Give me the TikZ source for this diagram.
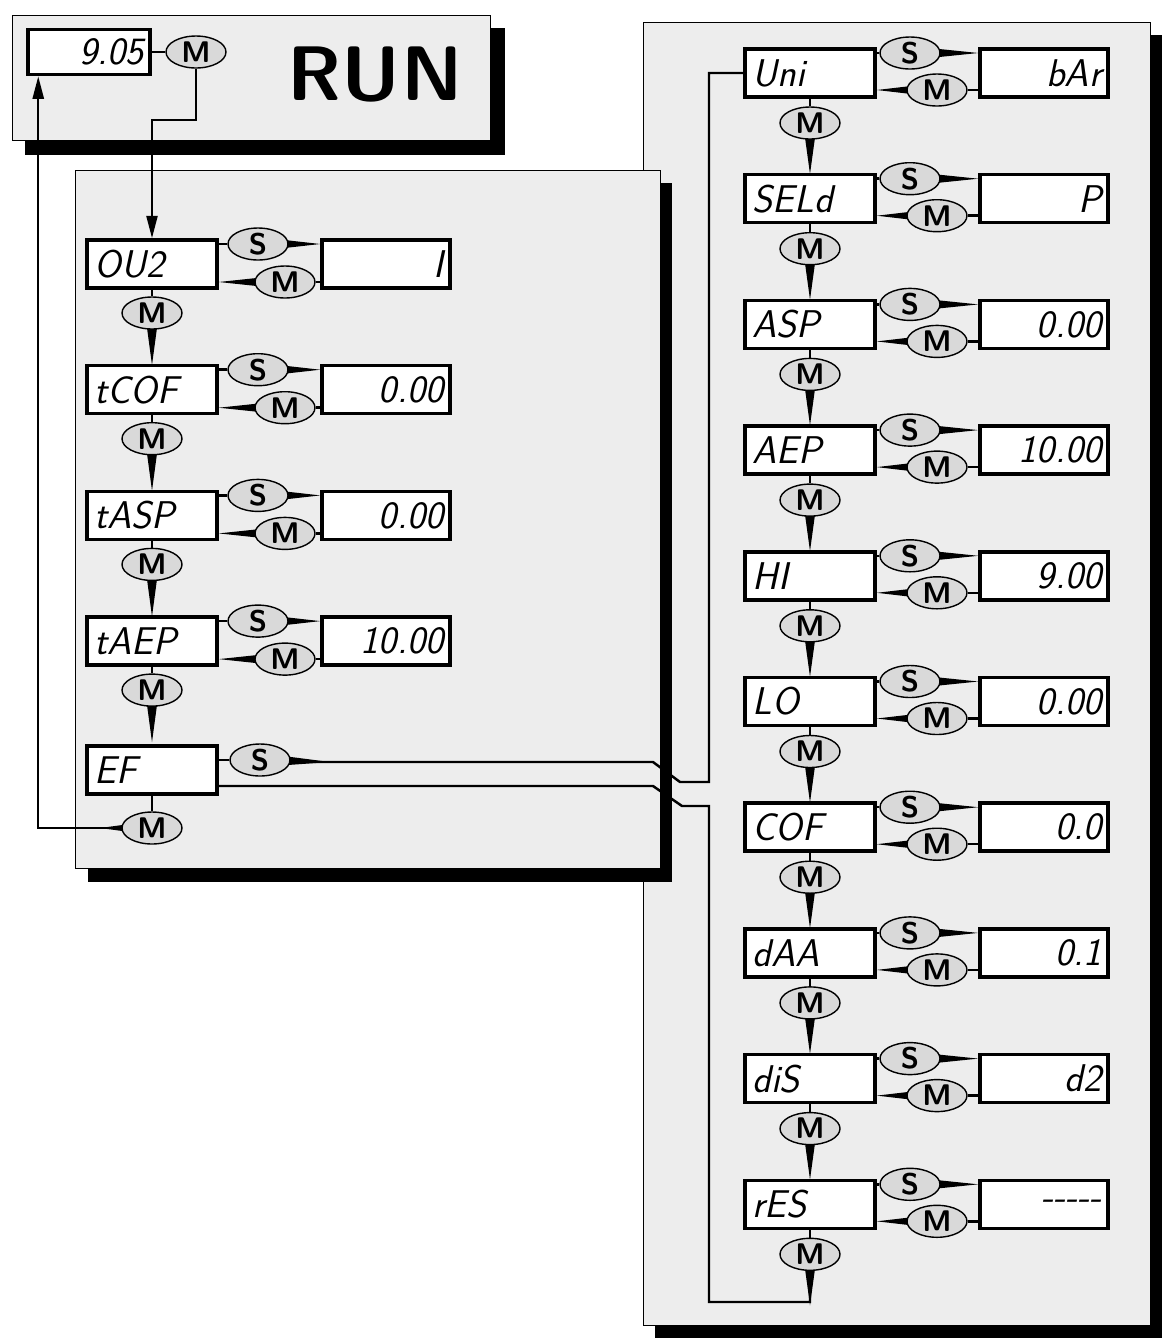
\documentclass[tikz,border=0pt]{standalone}
\usetikzlibrary{shapes.geometric,arrows.meta,calc}
\pgfdeclarelayer{bg}
\pgfdeclarelayer{wire}
\pgfsetlayers{bg,wire,main}

\tikzset{
  disp/.style={draw,line width=2pt,fill=white,minimum width=2.6cm,minimum height=0.96cm,
    text width=2.3cm,align=left,inner sep=2pt,font=\fontsize{22}{22}\selectfont\sffamily\itshape},
  val/.style={minimum width=2.56cm,align=right},
  btn/.style={ellipse,draw,thick,fill=gray!30,minimum width=1.2cm,minimum height=0.64cm,
    inner sep=0pt,font=\fontsize{17}{17}\selectfont\sffamily\bfseries},
  panel/.style={fill=gray!14,draw,thin},
  wire/.style={draw=black,line width=1.4pt},
  flow/.style={wire,-{Triangle[width=0.22cm,length=0.45cm]}}
}
\newcommand\htail[2]{\fill ($#1+(0,7)$) -- #2 -- ($#1-(0,7)$) -- cycle;}
\newcommand\vtail[2]{\fill ($#1+(7,0)$) -- #2 -- ($#1-(7,0)$) -- cycle;}

\begin{document}
\begin{tikzpicture}[x=0.02cm,y=-0.02cm]
  \useasboundingbox (0,0) rectangle (1168,1340);

  % panels with shadow
  \begin{pgfonlayer}{bg}
    \fill (655,35) rectangle (1162,1338);
    \draw[panel] (643,22) rectangle (1150,1325);
    \fill (25,28) rectangle (505,155);
    \draw[panel] (12,15) rectangle (490,140);
    \fill (88,183) rectangle (672,882);
    \draw[panel] (75,170) rectangle (660,868);
  \end{pgfonlayer}

  % run display
  \node[disp,minimum width=2.44cm,minimum height=0.9cm,text width=2.2cm,align=right] (run) at (89,52) {9.05};
  \node[btn] (runM) at (196,52) {M};
  \draw[wire] (run.east) -- (runM);
  \node[font=\fontsize{44}{44}\selectfont\sffamily\bfseries] (runT) at (375,75) {RUN};

  % left column
  \foreach \lab/\val [count=\i] in {OU2/I, tCOF/0.00, tASP/0.00, tAEP/10.00}{
    \pgfmathsetmacro\y{264+125.7*(\i-1)}
    \node[disp] (L\i) at (152,\y) {\lab};
    \node[disp,val] (LV\i) at (386,\y) {\val};
    \node[btn] (LS\i) at (258,\y-20) {S};
    \node[btn] (LM\i) at (285,\y+18) {M};
    \node[btn] (LD\i) at (152,\y+49) {M};
    \begin{pgfonlayer}{wire}
      \draw[wire] (L\i.east |- LS\i) -- (LS\i);
      \htail{(LS\i)}{(LV\i.west |- LS\i)}
      \draw[wire] (LM\i) -- (LV\i.west |- LM\i);
      \htail{(LM\i)}{(L\i.east |- LM\i)}
      \draw[wire] (L\i.south) -- (LD\i);
      \vtail{(LD\i)}{(152,\y+101)}
    \end{pgfonlayer}
  }
  \node[disp] (L5) at (152,770) {EF};
  \node[btn] (LS5) at (260,760) {S};
  \node[btn] (LR) at (152,828) {M};

  % right column
  \foreach \lab/\val [count=\i] in {Uni/bAr, SELd/P, ASP/0.00, AEP/10.00, HI/9.00,
      LO/0.00, COF/0.0, dAA/0.1, diS/d2, rES/{-}{-}{-}{-}{-}}{
    \pgfmathsetmacro\y{73+125.7*(\i-1)}
    \node[disp] (R\i) at (810,\y) {\lab};
    \node[disp,val] (RV\i) at (1044,\y) {\val};
    \node[btn] (RS\i) at (910,\y-20) {S};
    \node[btn] (RM\i) at (937,\y+17) {M};
    \node[btn] (RD\i) at (810,\y+50) {M};
    \begin{pgfonlayer}{wire}
      \draw[wire] (R\i.east |- RS\i) -- (RS\i);
      \htail{(RS\i)}{(RV\i.west |- RS\i)}
      \draw[wire] (RM\i) -- (RV\i.west |- RM\i);
      \htail{(RM\i)}{(R\i.east |- RM\i)}
      \draw[wire] (R\i.south) -- (RD\i);
      \vtail{(RD\i)}{(810,\y+101)}
    \end{pgfonlayer}
  }

  \begin{pgfonlayer}{wire}
    % run -> menu
    \draw[flow] (runM) -- ++(0,68) -| (L1.north);
    % EF -> back to run
    \draw[wire] (L5.south) -- (LR);
    \htail{(LR)}{(100,828)}
    \draw[flow] (LR) -| ([xshift=0.24cm]run.south west);
    % EF -> extended menu
    \draw[wire] (L5.east |- LS5) -- (LS5);
    \htail{(LS5)}{(330,762)}
    \draw[wire] (LS5.east |- 0,762) -- (653,762) -- (680,782) -| (709,73) -- (R1.west);
    \draw[wire] (L5.east |- 0,786) -- (653,786) -- (682,806) -| (709,1302) -| (RD10.south);
  \end{pgfonlayer}
\end{tikzpicture}
\end{document}
